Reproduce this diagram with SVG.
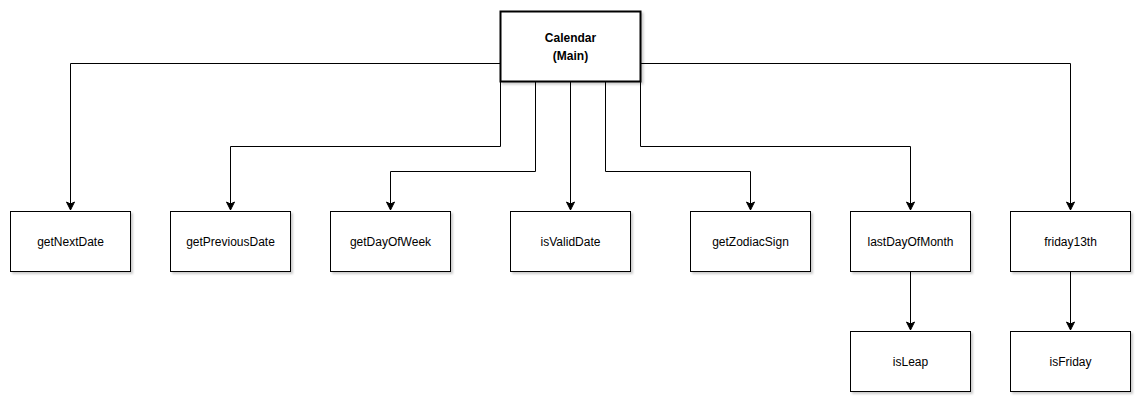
<svg xmlns="http://www.w3.org/2000/svg" width="1147" height="408" viewBox="0 0 1147 408">
<defs>
<marker id="arr" markerWidth="10" markerHeight="10" viewBox="0 0 10 10" refX="9" refY="5" orient="auto" markerUnits="userSpaceOnUse">
<path d="M1,1 L9,5 L1,9 L3,5 Z" fill="#000" stroke="#000" stroke-width="1"/>
</marker>
<filter id="sh" x="-10%" y="-10%" width="130%" height="130%">
<feDropShadow dx="2" dy="2" stdDeviation="1" flood-color="#000" flood-opacity="0.2"/>
</filter>
</defs>
<style>
.box{fill:#fff;stroke:#000;stroke-width:1;filter:url(#sh)}
.main{fill:#fff;stroke:#000;stroke-width:2;filter:url(#sh)}
.lbl{font-family:"Liberation Sans",Arial,sans-serif;font-size:12px;fill:#000;text-anchor:middle;dominant-baseline:central}
.b{font-weight:bold}
.c{fill:none;stroke:#000;stroke-width:1;marker-end:url(#arr)}
</style>
<rect width="1147" height="408" fill="#fff"/>
<g id="connectors">
<path class="c" d="M500,63.5 H70.5 V210"/>
<path class="c" d="M500.5,81 V146.5 H230.5 V210"/>
<path class="c" d="M535.5,81 V171.5 H390.5 V210"/>
<path class="c" d="M570.5,81 V210"/>
<path class="c" d="M605.5,81 V171.5 H750.5 V210"/>
<path class="c" d="M640.5,81 V146.5 H910.5 V210"/>
<path class="c" d="M641,63.5 H1070.5 V210"/>
<path class="c" d="M910.5,271 V330"/>
<path class="c" d="M1070.5,271 V330"/>
</g>
<g id="main">
<rect class="main" x="500.5" y="11.5" width="140" height="70"/>
<text class="lbl b" x="570.5" y="38">Calendar</text>
<text class="lbl b" x="570.5" y="56">(Main)</text>
</g>
<g id="getNextDate"><rect class="box" x="10.5" y="211.5" width="120" height="60"/><text class="lbl" x="70.5" y="241.5">getNextDate</text></g>
<g id="getPreviousDate"><rect class="box" x="170.5" y="211.5" width="120" height="60"/><text class="lbl" x="230.5" y="241.5">getPreviousDate</text></g>
<g id="getDayOfWeek"><rect class="box" x="330.5" y="211.5" width="120" height="60"/><text class="lbl" x="390.5" y="241.5">getDayOfWeek</text></g>
<g id="isValidDate"><rect class="box" x="510.5" y="211.5" width="120" height="60"/><text class="lbl" x="570.5" y="241.5">isValidDate</text></g>
<g id="getZodiacSign"><rect class="box" x="690.5" y="211.5" width="120" height="60"/><text class="lbl" x="750.5" y="241.5">getZodiacSign</text></g>
<g id="lastDayOfMonth"><rect class="box" x="850.5" y="211.5" width="120" height="60"/><text class="lbl" x="910.5" y="241.5">lastDayOfMonth</text></g>
<g id="friday13th"><rect class="box" x="1010.5" y="211.5" width="120" height="60"/><text class="lbl" x="1070.5" y="241.5">friday13th</text></g>
<g id="isLeap"><rect class="box" x="850.5" y="331.5" width="120" height="60"/><text class="lbl" x="910.5" y="361.5">isLeap</text></g>
<g id="isFriday"><rect class="box" x="1010.5" y="331.5" width="120" height="60"/><text class="lbl" x="1070.5" y="361.5">isFriday</text></g>
</svg>
